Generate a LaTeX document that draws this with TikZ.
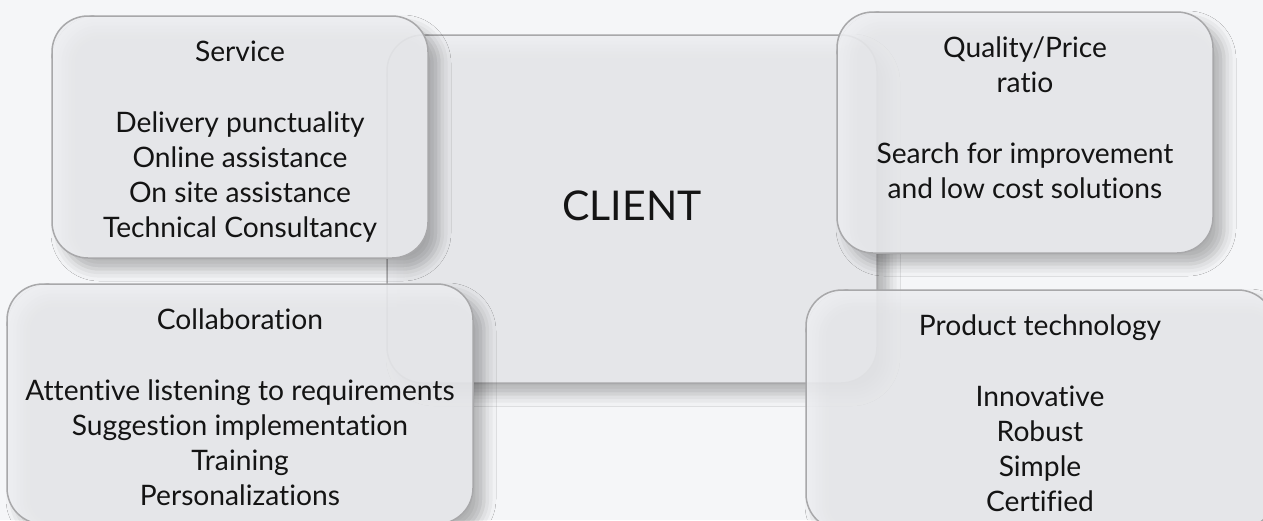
\documentclass[tikz,border=0pt]{standalone}
\usepackage{fontspec}
\setmainfont{Lato}[Ligatures={NoCommon,NoRare,NoContextual}]
\usetikzlibrary{positioning,shadows.blur}
\definecolor{pageColor}{RGB}{245,246,248}
\definecolor{boxColor}{RGB}{237,238,241}
\definecolor{edgeColor}{RGB}{168,168,170}
\definecolor{inkColor}{RGB}{20,20,20}
\tikzstyle{canvas} = [x = 1pt, y = -1pt]
\tikzstyle{factorBoxStyle} = [draw=edgeColor, line width=1.5pt, fill=boxColor, fill opacity=.88, rounded corners=36pt, inner sep=0pt,
  blur shadow={shadow xshift=11pt, shadow yshift=-11pt, shadow blur radius=12pt, shadow opacity=32}]
\tikzstyle{factorText} = [align=center, inner sep=0pt, text=inkColor, font=\fontsize{28.2}{35}\selectfont]
\tikzstyle{clientText} = [inner sep=0pt, text=inkColor, font=\fontsize{41}{48}\selectfont]
\newcommand{\factorBox}[5]{\node [factorBoxStyle, minimum width=#4pt, minimum height=#5pt] (#1) at (#2,#3) {};}
\newcommand{\factorLabel}[2]{\node [factorText, below=25pt of #1.north] (#1Text) {#2};}

\begin{document}
\begin{tikzpicture}[canvas]
  \useasboundingbox (0,0) rectangle (1263,520);
  \clip (0,0) rectangle (1263,520);
  \fill [pageColor] (0,0) rectangle (1263,520);

  \factorBox{client}{632}{209}{490}{348}
  \node [clientText] (clientName) at ([yshift=3pt]client.center) {CLIENT};

  \factorBox{service}{240}{137}{376}{242}
  \factorLabel{service}{Service\\[36pt]Delivery punctuality\\Online assistance\\On site assistance\\Technical Consultancy}

  \factorBox{quality}{1025}{132.5}{376}{241}
  \factorLabel{quality}{Quality/Price\\ratio\\[36pt]Search for improvement\\and low cost solutions}

  \factorBox{collaboration}{240}{404}{466}{240}
  \factorLabel{collaboration}{Collaboration\\[36pt]Attentive listening to requirements\\Suggestion implementation\\Training\\Personalizations}

  \factorBox{product}{1040}{410}{468}{240}
  \factorLabel{product}{Product technology\\[36pt]Innovative\\Robust\\Simple\\Certified}
\end{tikzpicture}
\end{document}
